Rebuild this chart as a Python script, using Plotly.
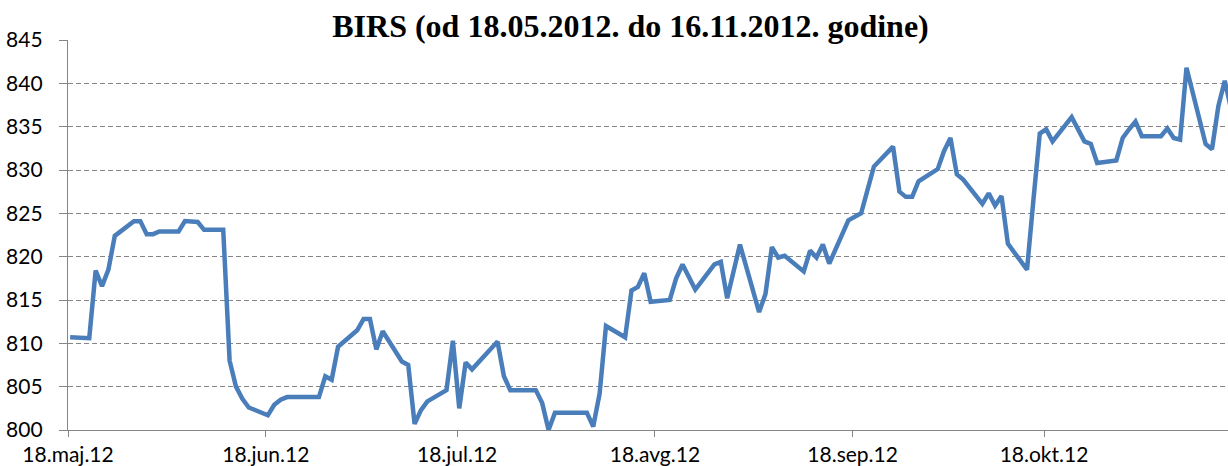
import pandas as pd
import plotly.graph_objects as go

# Trading dates and BIRS index values
dates = [
    "2012-05-18", "2012-05-21", "2012-05-22", "2012-05-23", "2012-05-24", "2012-05-25",
    "2012-05-28", "2012-05-29", "2012-05-30", "2012-05-31", "2012-06-01",
    "2012-06-04", "2012-06-05", "2012-06-06", "2012-06-07", "2012-06-08",
    "2012-06-11", "2012-06-12", "2012-06-13", "2012-06-14", "2012-06-15",
    "2012-06-18", "2012-06-19", "2012-06-20", "2012-06-21", "2012-06-22",
    "2012-06-25", "2012-06-26", "2012-06-27", "2012-06-28", "2012-06-29",
    "2012-07-02", "2012-07-03", "2012-07-04", "2012-07-05", "2012-07-06",
    "2012-07-09", "2012-07-10", "2012-07-11", "2012-07-12", "2012-07-13",
    "2012-07-16", "2012-07-17", "2012-07-18", "2012-07-19", "2012-07-20",
    "2012-07-23", "2012-07-24", "2012-07-25", "2012-07-26", "2012-07-27",
    "2012-07-30", "2012-07-31", "2012-08-01", "2012-08-02", "2012-08-03",
    "2012-08-06", "2012-08-07", "2012-08-08", "2012-08-09", "2012-08-10",
    "2012-08-13", "2012-08-14", "2012-08-15", "2012-08-16", "2012-08-17",
    "2012-08-20", "2012-08-21", "2012-08-22", "2012-08-23", "2012-08-24",
    "2012-08-27", "2012-08-28", "2012-08-29", "2012-08-30", "2012-08-31",
    "2012-09-03", "2012-09-04", "2012-09-05", "2012-09-06", "2012-09-07",
    "2012-09-10", "2012-09-11", "2012-09-12", "2012-09-13", "2012-09-14",
    "2012-09-17", "2012-09-18", "2012-09-19", "2012-09-20", "2012-09-21",
    "2012-09-24", "2012-09-25", "2012-09-26", "2012-09-27", "2012-09-28",
    "2012-10-01", "2012-10-02", "2012-10-03", "2012-10-04", "2012-10-05",
    "2012-10-08", "2012-10-09", "2012-10-10", "2012-10-11", "2012-10-12",
    "2012-10-15", "2012-10-16", "2012-10-17", "2012-10-18", "2012-10-19",
    "2012-10-22", "2012-10-23", "2012-10-24", "2012-10-25", "2012-10-26",
    "2012-10-29", "2012-10-30", "2012-10-31", "2012-11-01", "2012-11-02",
    "2012-11-05", "2012-11-06", "2012-11-07", "2012-11-08", "2012-11-09",
    "2012-11-12", "2012-11-13", "2012-11-14", "2012-11-15", "2012-11-16",
]

birs = [
    810.7, 810.6, 818.4, 816.6, 818.5, 822.4,
    824.1, 824.1, 822.6, 822.6, 822.9,
    822.9, 824.1, 824.1, 824.0, 823.1,
    823.1, 808.0, 805.0, 803.6, 802.6,
    801.7, 802.9, 803.5, 803.8, 803.8,
    803.8, 803.8, 806.2, 805.8, 809.6,
    811.5, 812.8, 812.8, 809.3, 811.4,
    807.9, 807.5, 800.7, 802.3, 803.3,
    804.6, 810.3, 802.5, 807.8, 807.0,
    809.4, 810.2, 806.2, 804.6, 804.6,
    804.6, 803.1, 800.0, 802.0, 802.0,
    802.0, 802.0, 800.4, 804.2, 812.0,
    810.7, 816.1, 816.5, 818.1, 814.8,
    815.0, 817.5, 819.1, 817.6, 816.2,
    819.1, 819.4, 815.2, 818.3, 821.4,
    813.6, 815.7, 821.1, 819.9, 820.1,
    818.3, 820.7, 819.9, 821.4, 819.2,
    824.2, 824.6, 825.0, 827.7, 830.4,
    832.7, 827.5, 826.9, 826.9, 828.7,
    830.1, 832.2, 833.7, 829.5, 828.9,
    826.1, 827.3, 825.9, 827.0, 821.5,
    818.5, 826.5, 834.2, 834.7, 833.3,
    836.1, 834.7, 833.3, 833.0, 830.8,
    831.1, 833.7, 834.7, 835.6, 833.9,
    833.9, 834.8, 833.7, 833.5, 841.8,
    833.0, 832.4, 837.4, 840.3, 837.0,
]

tick_dates = ["2012-05-18", "2012-06-18", "2012-07-18", "2012-08-18", "2012-09-18", "2012-10-18"]
tick_labels = ["18.maj.12", "18.jun.12", "18.jul.12", "18.avg.12", "18.sep.12", "18.okt.12"]

title_text = "BIRS (od 18.05.2012. do 16.11.2012. godine)"

# points sit slightly inside each day slot (as in the date axis of the original)
x_vals = pd.to_datetime(dates) + pd.Timedelta(hours=8)

fig = go.Figure()
fig.add_trace(go.Scatter(
    x=x_vals, y=birs, mode="lines",
    line=dict(color="#4A7EBB", width=4.5),
    showlegend=False, hoverinfo="x+y",
))

axis_grey = "#868686"
tick_font = dict(family="Lato, 'Open Sans', sans-serif", size=21, color="#000000")

fig.update_layout(
    width=1228, height=466,
    margin=dict(l=68, r=0, t=40, b=36, autoexpand=False),
    paper_bgcolor="white", plot_bgcolor="white",
    title=dict(
        text="<b>" + title_text + "</b>",
        font=dict(family="'Liberation Serif', 'Times New Roman', serif", size=32, color="#000000"),
        xref="container", x=630.5 / 1228, xanchor="center",
        yref="container", y=1 - 25.5 / 466, yanchor="middle",
    ),
    xaxis=dict(
        type="date",
        range=["2012-05-18 00:00", "2012-11-15 20:10"],
        tickmode="array", tickvals=tick_dates, ticktext=tick_labels,
        ticks="outside", ticklen=6, tickcolor=axis_grey, tickwidth=1.3,
        showline=True, linecolor=axis_grey, linewidth=1.3,
        showgrid=False, zeroline=False,
        tickfont=tick_font,
        ticklabelstandoff=0,
        automargin=False,
    ),
    yaxis=dict(
        range=[800, 845], dtick=5, tick0=800,
        ticks="outside", ticklen=8, tickcolor=axis_grey, tickwidth=1.3,
        showline=True, linecolor=axis_grey, linewidth=1.3,
        showgrid=True, gridcolor=axis_grey, gridwidth=1.2, griddash="5px,3px",
        zeroline=False,
        tickfont=tick_font,
        ticklabelstandoff=12,
        automargin=False,
    ),
)

fig.write_html(
    "out.html",
    config={"displayModeBar": False},
    post_script="document.body.style.margin='0';document.body.style.overflow='hidden';",
)
